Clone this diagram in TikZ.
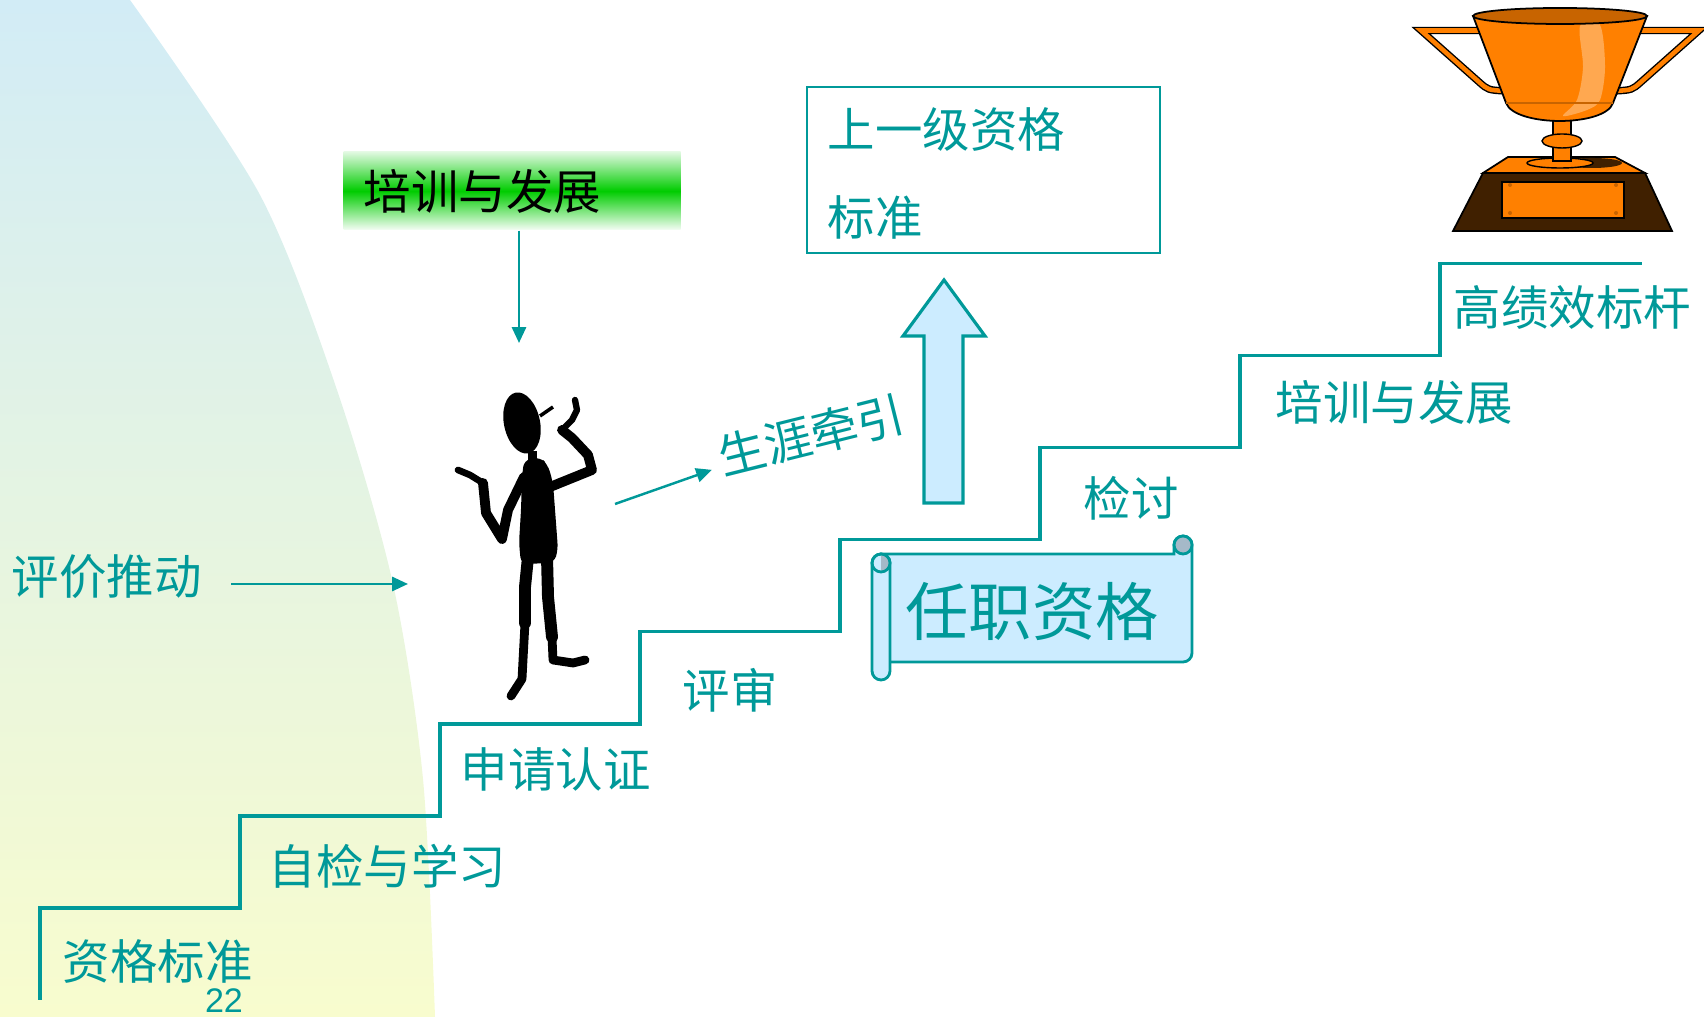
\documentclass[tikz,border=0pt]{standalone}
\usepackage{fontspec}
\setmainfont{Noto Sans CJK SC}
\newfontfamily\numfont{Liberation Sans}
\usetikzlibrary{arrows.meta}
\definecolor{stepteal}{RGB}{0,153,153}
\definecolor{paleblue}{RGB}{204,236,255}
\definecolor{bgtop}{RGB}{210,236,246}
\definecolor{bgbot}{RGB}{248,252,206}
\definecolor{traingreen}{RGB}{0,204,0}
\definecolor{cupor}{RGB}{255,128,0}
\definecolor{cupdark}{RGB}{200,100,0}
\definecolor{cuplite}{RGB}{255,168,80}
\definecolor{basebrown}{RGB}{64,32,0}
\definecolor{curlgray}{RGB}{165,185,200}

\begin{document}
\begin{tikzpicture}[
    lbl/.style={text=stepteal, inner sep=0pt, anchor=west,
      font=\fontsize{13.5pt}{16pt}\selectfont},
    arr/.style={stepteal, line width=0.7pt, -{Triangle[length=4.5pt,width=4pt]}},
    limb/.style={line cap=round, line join=round}]
  \useasboundingbox (0,0) rectangle (17.04,10.17);
  % soft backdrop on the left
  \shade[top color=bgtop, bottom color=bgbot] (0,0) -- (0,10.17)
    -- plot[smooth] coordinates {(1.30,10.17) (2.60,8.22) (3.37,6.27) (3.93,4.33) (4.23,2.38) (4.35,0)}
    -- cycle;
  % the staircase, 8 rises
  \draw[stepteal, line width=1pt] (0.40,0.17) -- (0.40,1.09)
    \foreach \k in {1,...,7} { -- ++(2,0) -- ++(0,0.921) } -- ++(2.02,0);
  \node[lbl] (std) at (0.62,0.55) {资格标准};
  \node[lbl] (self) at (2.68,1.51) {自检与学习};
  \node[lbl] (apply) at (4.60,2.48) {申请认证};
  \node[lbl] (review) at (6.82,3.27) {评审};
  \node[lbl] (recheck) at (10.83,5.19) {检讨};
  \node[lbl] (develop) at (12.75,6.15) {培训与发展};
  \node[lbl] (bench) at (14.53,7.10) {高绩效标杆};
  \node[text=stepteal, inner sep=0pt, anchor=base,
    font=\numfont\fontsize{9.7pt}{11pt}\selectfont] (pageno) at (2.24,0.045) {22};
  % pushes from left and above
  \node[lbl] (push) at (0.11,4.40) {评价推动};
  \coordinate (figleft) at (4.08,4.33);
  \draw[arr, shorten <=0.29cm] (push.east |- figleft) -- (figleft);
  \node[shade, top color=traingreen!12, bottom color=traingreen!4, middle color=traingreen,
    anchor=west, text width=2.97cm, align=left, inner xsep=0.2cm, inner ysep=0pt,
    minimum height=0.78cm, font=\fontsize{13.5pt}{16pt}\selectfont] (trainbox) at (3.43,8.26) {培训与发展};
  \coordinate (figtop) at (5.19,6.74);
  \draw[arr] (trainbox.south -| figtop) -- (figtop);
  % the thinking man
  \fill[rotate around={12:(5.22,5.94)}] (5.22,5.94) ellipse (0.18 and 0.31);
  \draw[line width=1pt] (5.40,6.01) -- (5.53,6.10);
  \fill (5.28,5.54) rectangle (5.37,5.66);
  \fill[rounded corners=2pt] (5.24,5.57) -- (5.40,5.60) -- (5.48,5.52) -- (5.53,5.34) -- (5.56,4.94)
    -- (5.58,4.67) -- (5.54,4.54) -- (5.21,4.53) -- (5.19,4.74) -- (5.21,5.07) -- (5.22,5.40) -- cycle;
  \draw[limb, line width=2.8pt] (5.24,5.40) -- (5.08,5.07) -- (5.02,4.78) -- (4.86,5.04) -- (4.83,5.34);
  \draw[limb, line width=1.9pt] (4.83,5.34) -- (4.70,5.42) -- (4.58,5.47);
  \draw[limb, line width=2.8pt] (5.50,5.30) -- (5.92,5.47) -- (5.88,5.62) -- (5.72,5.79) -- (5.62,5.87);
  \draw[limb, line width=1.8pt] (5.62,5.87) -- (5.72,5.97) -- (5.77,6.07) -- (5.75,6.17);
  \draw[limb, line width=3.4pt] (5.28,4.60) -- (5.25,4.30) -- (5.25,3.94);
  \draw[limb, line width=2.5pt] (5.25,3.94) -- (5.23,3.57) -- (5.22,3.38) -- (5.11,3.21);
  \draw[limb, line width=3.4pt] (5.47,4.60) -- (5.48,4.20) -- (5.52,3.80);
  \draw[limb, line width=2.5pt] (5.52,3.80) -- (5.53,3.57) -- (5.73,3.54) -- (5.85,3.57);
  % career pull
  \node[lbl, anchor=center, rotate=14] (career) at (8.11,5.82) {生涯牵引};
  \coordinate (pullstart) at (6.15,5.13);
  \draw[arr, shorten >=1.05cm] (pullstart) -- (career.center);
  % next level and the big arrow
  \node[draw=stepteal, line width=0.7pt, minimum width=3.53cm, minimum height=1.66cm] (upbox) at (9.835,8.47) {};
  \node[lbl] (up1) at (8.27,8.87) {上一级资格};
  \node[lbl] (up2) at (8.27,8.00) {标准};
  \filldraw[fill=paleblue, draw=stepteal, line width=0.9pt] (9.24,5.14) -- (9.24,6.81) -- (9.03,6.81)
    -- (9.44,7.37) -- (9.85,6.81) -- (9.63,6.81) -- (9.63,5.14) -- cycle;
  % scroll
  \filldraw[fill=paleblue, draw=stepteal, line width=0.8pt] (8.81,3.55) -- (11.83,3.55)
    arc[start angle=-90, end angle=0, radius=0.09] -- (11.92,4.72)
    arc[start angle=0, end angle=180, radius=0.09] -- (11.74,4.63) -- (8.81,4.63) -- cycle;
  \filldraw[fill=curlgray, draw=stepteal, line width=0.8pt] (11.83,4.72) circle (0.09);
  \draw[stepteal, line width=0.8pt] (11.74,4.72) -- (11.74,4.63);
  \filldraw[fill=paleblue, draw=stepteal, line width=0.8pt] (8.72,3.46) -- (8.72,4.54)
    arc[start angle=180, end angle=0, radius=0.09] -- (8.90,3.46)
    arc[start angle=0, end angle=-180, radius=0.09] -- cycle;
  \fill[curlgray] (8.81,4.45) arc[start angle=-90, end angle=90, radius=0.09] -- cycle;
  \draw[stepteal, line width=0.8pt] (8.81,4.54) circle (0.09);
  \node[lbl, font=\fontsize{18pt}{21pt}\selectfont] (post) at (9.05,4.05) {任职资格};
  % trophy: handles first, then cup and base
  \foreach \s in {1,-1} {
    \begin{scope}[xshift=15.60cm, xscale=\s]
      \draw[black, line width=2.1pt] (-0.80,9.865) -- (-1.39,9.865) -- (-0.81,9.35)
        .. controls (-0.72,9.27) .. (-0.55,9.26);
      \draw[cupor, line width=1.3pt] (-0.80,9.865) -- (-1.39,9.865) -- (-0.81,9.35)
        .. controls (-0.72,9.27) .. (-0.55,9.26);
    \end{scope}
  }
  \filldraw[fill=cupor, draw=black, line width=0.5pt] (14.83,8.44) -- (15.08,8.60) -- (16.15,8.60) -- (16.45,8.44) -- cycle;
  \filldraw[fill=basebrown, draw=black, line width=0.5pt] (14.83,8.44) -- (16.45,8.44) -- (16.72,7.86) -- (14.53,7.86) -- cycle;
  \filldraw[fill=cupor, draw=black, line width=0.5pt] (15.02,8.35) rectangle (16.24,7.99);
  \foreach \px in {15.10,16.16} {
    \foreach \py in {8.04,8.32} {
      \fill[cupdark] (\px,\py) circle (0.02);
    }
  }
  \fill[basebrown] (15.92,8.54) ellipse (0.30 and 0.05);
  \filldraw[fill=cupor, draw=black, line width=0.4pt] (15.60,8.54) ellipse (0.33 and 0.05);
  \filldraw[fill=cupor, draw=black, line width=0.4pt] (15.53,8.97) rectangle (15.71,8.56);
  \filldraw[fill=cupor, draw=black, line width=0.4pt] (15.62,8.76) ellipse (0.20 and 0.07);
  \filldraw[fill=cupor, draw=black, line width=0.5pt] (14.73,10.01) -- (15.06,9.14)
    .. controls (15.15,8.90) and (16.05,8.90) .. (16.13,9.14) -- (16.47,10.01) -- cycle;
  \fill[cuplite] plot[smooth cycle] coordinates {(15.80,9.91) (16.00,9.92) (16.05,9.50) (16.00,9.17)
    (15.87,9.07) (15.63,9.01) (15.77,9.17) (15.83,9.50)};
  \draw[cupdark, line width=0.5pt] (15.06,9.14) -- (16.13,9.14);
  \filldraw[fill=cupdark, draw=black, line width=0.5pt] (15.60,10.01) ellipse (0.87 and 0.08);
\end{tikzpicture}
\end{document}
